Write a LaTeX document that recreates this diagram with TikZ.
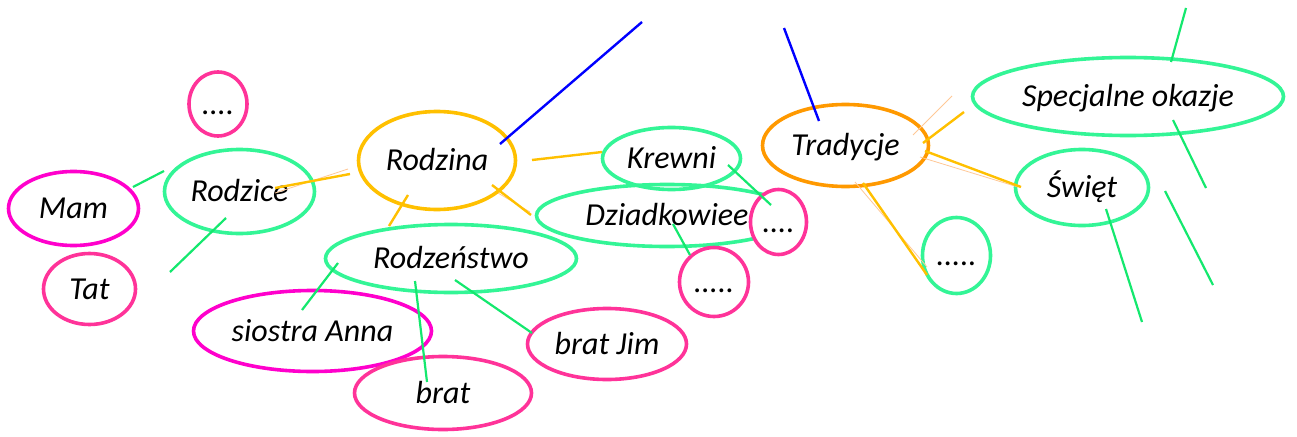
\documentclass[tikz,border=0pt]{standalone}
\usepackage{fontspec}
\setmainfont{Carlito}
\usetikzlibrary{shapes.geometric}
\definecolor{mint}{RGB}{51,245,150}
\definecolor{lgreen}{RGB}{20,232,110}
\definecolor{magen}{RGB}{255,0,204}
\definecolor{pinkc}{RGB}{255,51,153}
\definecolor{yell}{RGB}{255,192,0}
\definecolor{orng}{RGB}{255,153,0}
\definecolor{peach}{RGB}{255,200,150}
\begin{document}
\begin{tikzpicture}[x=1pt,y=-1pt,
  ell/.style={ellipse, line width=3.6pt, inner sep=0pt, text height=20pt, text depth=0pt,
    font=\fontsize{32}{38}\selectfont\itshape},
  gline/.style={lgreen, line width=2.2pt},
  yline/.style={yell, line width=2.4pt},
  pline/.style={peach, line width=0.8pt},
  bline/.style={blue, line width=2.4pt}]
\useasboundingbox[fill=white] (0,0) rectangle (1297,436);

% nodes
\node[ell, draw=pinkc, minimum width=58pt, minimum height=64pt] (dotsA) at (218,104) {....};
\node[ell, draw=magen, minimum width=130pt, minimum height=74pt] (mam) at (73.5,208.5) {Mam};
\node[ell, draw=mint, minimum width=150pt, minimum height=84pt] (rodzice) at (239.5,191.5) {Rodzice};
\node[ell, draw=pinkc, minimum width=92pt, minimum height=71pt] (tat) at (89.5,289) {Tat};
\node[ell, draw=yell, minimum width=157pt, minimum height=98pt] (rodzina) at (437,160.5) {Rodzina};
\node[ell, draw=mint, minimum width=251pt, minimum height=68pt] (rodzenstwo) at (451,258.5) {Rodzeństwo};
\node[ell, draw=mint, minimum width=138pt, minimum height=62pt] (krewni) at (671.5,158.5) {Krewni};
\node[ell, draw=mint, minimum width=261pt, minimum height=62pt] (dziadkowiee) at (667,215.5) {Dziadkowiee};
\node[ell, draw=pinkc, fill=white, minimum width=56pt, minimum height=65pt] (dotsB) at (778.5,222) {....};
\node[ell, draw=pinkc, minimum width=69pt, minimum height=69pt] (dotsC) at (714,282) {.....};
\node[ell, draw=orng, minimum width=166pt, minimum height=82pt] (tradycje) at (845.5,145.5) {Tradycje};
\node[ell, draw=mint, minimum width=68pt, minimum height=76pt] (dotsD) at (956.5,255.5) {.....};
\node[ell, draw=mint, minimum width=311pt, minimum height=78pt] (specjalne) at (1128,96.5) {Specjalne okazje};
\node[ell, draw=mint, minimum width=133pt, minimum height=76pt] (swiet) at (1082,187.5) {Święt};
\node[ell, draw=magen, minimum width=238pt, minimum height=81pt] (siostra) at (312.5,331) {siostra Anna};
\node[ell, draw=pinkc, minimum width=177pt, minimum height=73pt] (brat) at (443,393) {brat};
\node[ell, draw=pinkc, minimum width=159pt, minimum height=71pt] (bratjim) at (607,344) {brat Jim};

% connector end points
\coordinate (g1a) at (133,187);  \coordinate (g1b) at (164,171);
\coordinate (g2a) at (226,218);  \coordinate (g2b) at (170,272);
\coordinate (g3a) at (338,263);  \coordinate (g3b) at (302,310);
\coordinate (g4a) at (415,281);  \coordinate (g4b) at (427,382);
\coordinate (g5a) at (455,280);  \coordinate (g5b) at (532,333);
\coordinate (g6a) at (728,165);  \coordinate (g6b) at (771,205);
\coordinate (g7a) at (673,224);  \coordinate (g7b) at (690,255);
\coordinate (g8a) at (1186,8);   \coordinate (g8b) at (1171,62);
\coordinate (g9a) at (1173,120); \coordinate (g9b) at (1206,188);
\coordinate (g10a) at (1106,209); \coordinate (g10b) at (1142,322);
\coordinate (g11a) at (1165,191); \coordinate (g11b) at (1213,285);

\coordinate (y1a) at (275,188); \coordinate (y1b) at (350,174);
\coordinate (y2a) at (532,160); \coordinate (y2b) at (602,152);
\coordinate (y3a) at (492,185); \coordinate (y3b) at (531,215);
\coordinate (y4a) at (408,195); \coordinate (y4b) at (389,226);
\coordinate (y5a) at (923,143); \coordinate (y5b) at (964,112);
\coordinate (y6a) at (925,151); \coordinate (y6b) at (1021,187);
\coordinate (y7a) at (863,183); \coordinate (y7b) at (927,275);

\coordinate (p1a) at (275,193); \coordinate (p1b) at (348,169);
\coordinate (p2a) at (498,193); \coordinate (p2b) at (530,212);
\coordinate (p3a) at (913,135); \coordinate (p3b) at (952,96);
\coordinate (p4a) at (920,157); \coordinate (p4b) at (1018,187);
\coordinate (p5a) at (855,182); \coordinate (p5b) at (927,267);

\coordinate (b1a) at (500,144); \coordinate (b1b) at (642,22);
\coordinate (b2a) at (784,28);  \coordinate (b2b) at (819,121);

% connectors
\foreach \c in {p1,p2,p3,p4,p5} \draw[pline] (\c a) -- (\c b);
\foreach \c in {g1,g2,g3,g4,g5,g6,g7,g8,g9,g10,g11} \draw[gline] (\c a) -- (\c b);
\foreach \c in {y1,y2,y3,y4,y5,y6,y7} \draw[yline] (\c a) -- (\c b);
\foreach \c in {b1,b2} \draw[bline] (\c a) -- (\c b);
\end{tikzpicture}
\end{document}
